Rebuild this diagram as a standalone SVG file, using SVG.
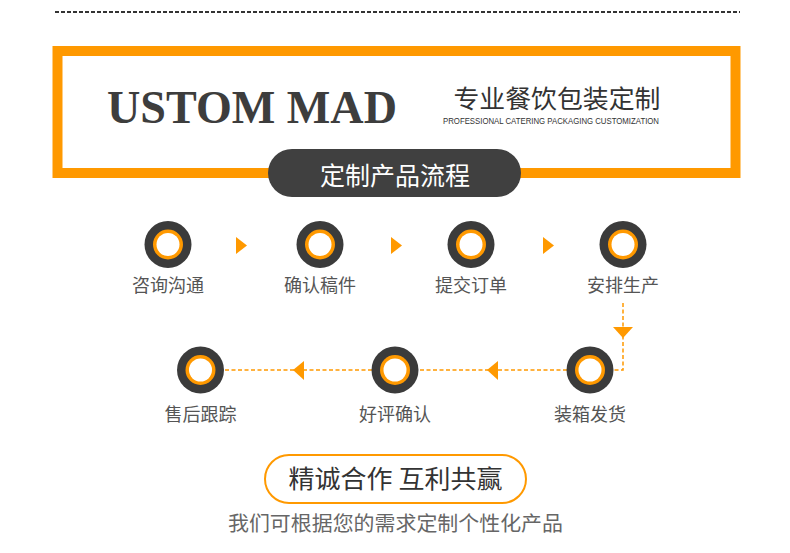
<svg xmlns="http://www.w3.org/2000/svg" width="790" height="553" viewBox="0 0 790 553">
<defs>
<style>
.cn{font-family:"Noto Sans CJK SC","Noto Sans",sans-serif;}
.lbl{font-size:18px;fill:#555;text-anchor:middle;}
.dash{stroke:#ff9900;stroke-width:1.5;stroke-dasharray:4 2.5;fill:none;}
.tri{fill:#ff9900;}
</style>
<g id="ring">
<circle r="23.5" fill="#3b3b3b"/>
<circle r="15" fill="#ff9900"/>
<circle r="11.5" fill="#ffffff"/>
</g>
</defs>
<rect width="790" height="553" fill="#ffffff"/>
<line x1="55" y1="12" x2="740" y2="12" stroke="#333" stroke-width="2" stroke-dasharray="4 2"/>
<g id="header">
<rect x="57.5" y="51" width="678" height="122" fill="#ffffff" stroke="#ff9900" stroke-width="10"/>
<text x="107" y="123" font-family="Liberation Serif,serif" font-weight="bold" font-size="46" fill="#3d3d3d" textLength="290" lengthAdjust="spacingAndGlyphs">USTOM MAD</text>
<text class="cn" x="557" y="108" font-size="25" fill="#333" text-anchor="middle" textLength="207" lengthAdjust="spacingAndGlyphs">专业餐饮包装定制</text>
<text x="443" y="124" font-family="Liberation Sans,sans-serif" font-size="9" fill="#333" textLength="216" lengthAdjust="spacingAndGlyphs">PROFESSIONAL CATERING PACKAGING CUSTOMIZATION</text>
</g>
<g id="title">
<rect x="268" y="149" width="253" height="48" rx="24" fill="#404040"/>
<text class="cn" x="395" y="185" font-size="25" fill="#ffffff" text-anchor="middle">定制产品流程</text>
</g>
<g id="connectors">
<polygon class="tri" points="236,237 247,245.5 236,254"/>
<polygon class="tri" points="391,237 402,245.5 391,254"/>
<polygon class="tri" points="543,237 554,245.5 543,254"/>
<polyline class="dash" points="623,303 623,370 614,370"/>
<polygon class="tri" points="613,327 633,327 623,338"/>
<line class="dash" x1="567" y1="370" x2="419" y2="370"/>
<polygon class="tri" points="487,370 498,361 498,380"/>
<line class="dash" x1="372" y1="370" x2="224" y2="370"/>
<polygon class="tri" points="293,370 304,361 304,380"/>
</g>
<g id="n1"><use href="#ring" x="168" y="244.5"/><text class="cn lbl" x="168" y="292">咨询沟通</text></g>
<g id="n2"><use href="#ring" x="320" y="244.5"/><text class="cn lbl" x="320" y="292">确认稿件</text></g>
<g id="n3"><use href="#ring" x="471" y="244.5"/><text class="cn lbl" x="471" y="292">提交订单</text></g>
<g id="n4"><use href="#ring" x="623" y="244.5"/><text class="cn lbl" x="623" y="292">安排生产</text></g>
<g id="n5"><use href="#ring" x="590" y="370"/><text class="cn lbl" x="590" y="421">装箱发货</text></g>
<g id="n6"><use href="#ring" x="395" y="370"/><text class="cn lbl" x="395" y="421">好评确认</text></g>
<g id="n7"><use href="#ring" x="200.5" y="370"/><text class="cn lbl" x="200.5" y="421">售后跟踪</text></g>
<g id="slogan">
<rect x="265" y="455" width="261" height="48" rx="24" fill="#ffffff" stroke="#ff9900" stroke-width="2"/>
<text class="cn" x="395.5" y="488" font-size="25" fill="#333" text-anchor="middle" textLength="214" lengthAdjust="spacingAndGlyphs">精诚合作 互利共赢</text>
</g>
<text class="cn" x="395.5" y="531" font-size="20.5" fill="#666" text-anchor="middle" textLength="335" lengthAdjust="spacingAndGlyphs">我们可根据您的需求定制个性化产品</text>
</svg>
